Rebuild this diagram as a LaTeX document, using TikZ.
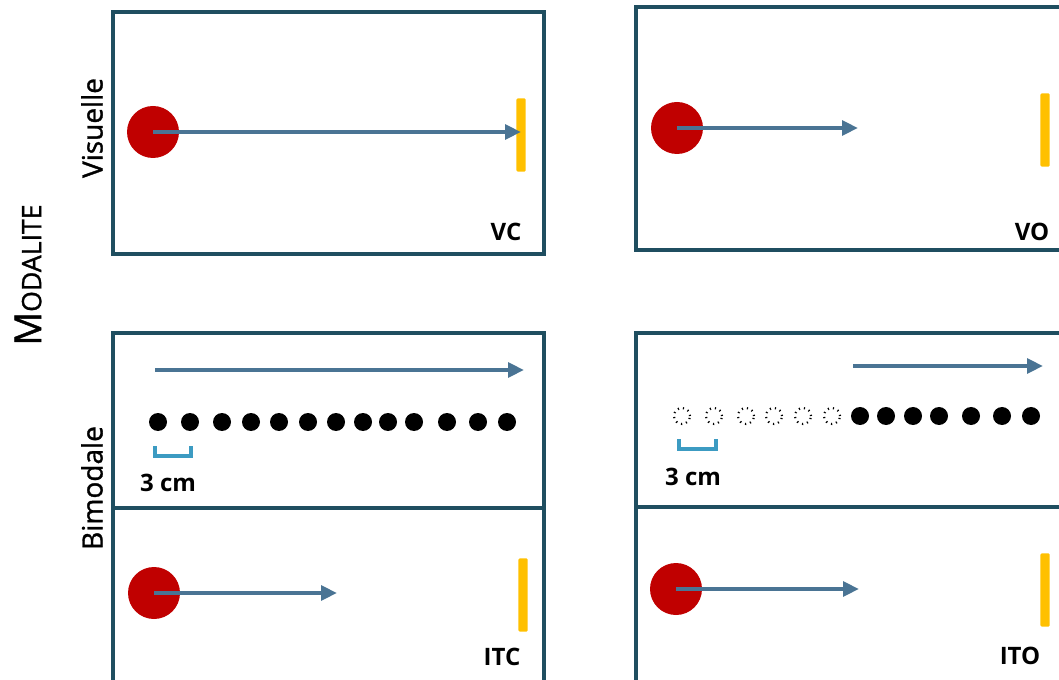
\documentclass[tikz,border=0pt]{standalone}
\usepackage{fontspec}
\setmainfont{Open Sans}
\newfontfamily\rowfont[FakeBold=1.2]{Open Sans}
\usepackage{xcolor}
\usetikzlibrary{arrows.meta}
\usetikzlibrary{positioning}

\definecolor{frame}{HTML}{1F4E60}
\definecolor{motion}{HTML}{4A7494}
\definecolor{ballred}{HTML}{C00000}
\definecolor{screen}{HTML}{FFC000}
\definecolor{gapblue}{HTML}{3C9BC2}

\tikzset{
    panel/.style={draw=frame, line width=3pt},
    ball/.style={circle, fill=ballred, minimum size=39pt, inner sep=0pt},
    target/.style={fill=screen, rounded corners=1pt, minimum width=7pt, minimum height=55pt, inner sep=0pt},
    move/.style={draw=motion, line width=3pt, -{Triangle[length=12pt,width=11pt]}},
    tap/.style={circle, fill=black, minimum size=13.5pt, inner sep=0pt},
    notap/.style={circle, draw, line width=1.6pt, dash pattern=on 0.9pt off 3pt, minimum size=12pt, inner sep=0pt},
    spacing/.style={draw=gapblue, line width=2.8pt},
    cond/.style={font=\fontsize{18}{20}\selectfont\bfseries, inner sep=0pt},
    rowlab/.style={rotate=90, font=\fontsize{21}{24}\selectfont\rowfont, inner sep=0pt}
}

\begin{document}
\begin{tikzpicture}[x=0.75pt, y=-0.75pt]
    \useasboundingbox (0,0) rectangle (1059,680);

    % row and axis labels
    \node[rotate=90, inner sep=0pt] (modal) at (28,275)
        {\rowfont\fontsize{28}{30}\selectfont M\fontsize{20}{22}\selectfont ODALITE};
    \node[rowlab] (visu) at (92,128) {Visuelle};
    \node[rowlab] (bimo) at (92,488) {Bimodale};

    % panels
    \draw[panel] (113,12) rectangle (544,254);
    \draw[panel] (636,7) rectangle (1080,250);
    \draw[panel] (113,333) rectangle (544,700);
    \draw[panel] (113,508) -- (544,508);
    \draw[panel] (636,333) rectangle (1080,700);
    \draw[panel] (636,507) -- (1080,507);

    % VC
    \node[ball] (vcball) at (153,132) {};
    \node[target] (vcbar) at (521,135) {};
    \draw[move] (vcball.center) -- (vcball.center -| vcbar.center);
    \node[cond] (vc) at (506,232) {VC};

    % VO
    \node[ball] (voball) at (677,128) {};
    \node[target] (vobar) at (1045,130) {};
    \coordinate (voend) at (858,128);
    \draw[move] (voball.center) -- (voend);
    \node[cond] (vo) at (1032,232) {VO};

    % ITC, tactile row
    \coordinate (itcstart) at (155,370);
    \coordinate (itcstop) at (524,370);
    \draw[move] (itcstart) -- (itcstop);
    \foreach \x [count=\i] in {158,190,222,251,279,308,336,363,388,414,447,478,507}
        \node[tap] (itcdot\i) at (\x,422) {};
    \draw[spacing] (155,446) |- (191,456) -- (191,446);
    \node[cond] (itcgap) at (168,483) {3 cm};

    % ITC, visual row
    \node[ball] (itcball) at (154,593) {};
    \node[target] (itcbar) at (523,595) {};
    \coordinate (itcend) at (337,593);
    \draw[move] (itcball.center) -- (itcend);
    \node[cond] (itc) at (502,657) {ITC};

    % ITO, tactile row
    \coordinate (itostart) at (853,366);
    \coordinate (itostop) at (1043,366);
    \draw[move] (itostart) -- (itostop);
    \foreach \x [count=\i] in {682,714,746,774,803,832}
        \node[notap] (itoghost\i) at (\x,416) {};
    \foreach \x [count=\i] in {860,886,913,939,971,1002,1031}
        \node[tap] (itodot\i) at (\x,416) {};
    \draw[spacing] (679,439) |- (716,449) -- (716,439);
    \node[cond] (itogap) at (693,477) {3 cm};

    % ITO, visual row
    \node[ball] (itoball) at (676,589) {};
    \node[target] (itobar) at (1045,590) {};
    \coordinate (itoend) at (859,589);
    \draw[move] (itoball.center) -- (itoend);
    \node[cond] (ito) at (1020,656) {ITO};
\end{tikzpicture}
\end{document}
